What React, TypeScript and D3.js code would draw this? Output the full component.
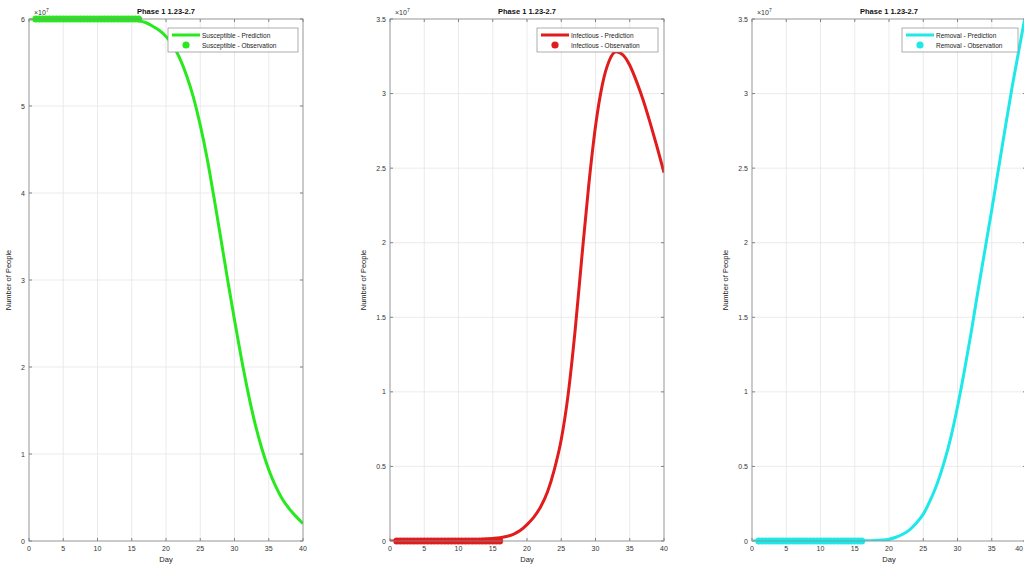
import React from "react";
import * as d3 from "d3";

const days = d3.range(0, 41);
const obsDays = d3.range(1, 16.01, 0.5);

// values in units of 1e7 people
const susceptible = [
  6.0, 6.0, 6.0, 6.0, 6.0, 6.0, 6.0, 6.0, 6.0, 6.0, 6.0, 5.999, 5.998, 5.997, 5.995, 5.99,
  5.98, 5.96, 5.92, 5.87, 5.8, 5.7, 5.55, 5.35, 5.1, 4.78, 4.4, 3.95, 3.48, 3.0,
  2.54, 2.1, 1.7, 1.35, 1.06, 0.82, 0.63, 0.48, 0.37, 0.28, 0.2,
];
const infectious = [
  0.0, 0.0, 0.001, 0.001, 0.001, 0.002, 0.002, 0.003, 0.003, 0.004, 0.005, 0.006, 0.008, 0.01, 0.013, 0.017,
  0.022, 0.03, 0.045, 0.07, 0.11, 0.16, 0.23, 0.33, 0.48, 0.68, 0.98, 1.4, 1.9, 2.38,
  2.78, 3.06, 3.22, 3.28, 3.26, 3.19, 3.08, 2.95, 2.8, 2.64, 2.47,
];
const removal = [
  0.0, 0.0, 0.0, 0.0, 0.0, 0.0, 0.0, 0.0, 0.0, 0.0, 0.0, 0.0, 0.0, 0.0, 0.001, 0.001,
  0.001, 0.002, 0.003, 0.006, 0.012, 0.025, 0.045, 0.075, 0.12, 0.18, 0.27, 0.38, 0.52, 0.69,
  0.9, 1.14, 1.4, 1.68, 1.95, 2.22, 2.5, 2.78, 3.05, 3.3, 3.55,
];
const obsSusceptible = obsDays.map(() => 6.0);
const obsInfectious = obsDays.map(() => 0.0);
const obsRemoval = obsDays.map(() => 0.0);

const xTicks = [0, 5, 10, 15, 20, 25, 30, 35, 40];
const yTicksS = [0, 1, 2, 3, 4, 5, 6];
const yTicksIR = [0, 0.5, 1, 1.5, 2, 2.5, 3, 3.5];

const title = "Phase 1 1.23-2.7";

type Panel = {
  left: number;
  right: number;
  yMax: number;
  yTicks: number[];
  pred: number[];
  obs: number[];
  color: string;
  predLabel: string;
  obsLabel: string;
  legendX: number;
  legendW: number;
  ylabelX: number;
};

const panels: Panel[] = [
  {
    left: 29, right: 303, yMax: 6, yTicks: yTicksS, pred: susceptible, obs: obsSusceptible,
    color: "rgb(40,232,30)", predLabel: "Susceptible - Prediction", obsLabel: "Susceptible - Observation",
    legendX: 168, legendW: 130, ylabelX: 11,
  },
  {
    left: 390, right: 664, yMax: 3.5, yTicks: yTicksIR, pred: infectious, obs: obsInfectious,
    color: "rgb(225,28,28)", predLabel: "Infectious - Prediction", obsLabel: "Infectious - Observation",
    legendX: 537, legendW: 121, ylabelX: 366,
  },
  {
    left: 752, right: 1026, yMax: 3.5, yTicks: yTicksIR, pred: removal, obs: obsRemoval,
    color: "rgb(30,232,232)", predLabel: "Removal - Prediction", obsLabel: "Removal - Observation",
    legendX: 902, legendW: 116, ylabelX: 728,
  },
];

const TOP = 19;
const BOTTOM = 541;
const WIDTH = 1024;
const FONT = "'Liberation Sans', Arial, sans-serif";

function PanelView({ p, i }: { p: Panel; i: number }) {
  const x = d3.scaleLinear().domain([0, 40]).range([p.left, p.right]);
  const y = d3.scaleLinear().domain([0, p.yMax]).range([BOTTOM, TOP]);
  const line = d3
    .line<number>()
    .x((_, k) => x(days[k]))
    .y((v) => y(v))
    .curve(d3.curveMonotoneX);
  const clipId = `clip${i}`;
  const cx = (p.left + p.right) / 2;
  const lx = p.legendX;
  return (
    <g>
      <defs>
        <clipPath id={clipId}>
          <rect x={p.left} y={TOP} width={p.right - p.left} height={BOTTOM - TOP} />
        </clipPath>
      </defs>
      <rect x={p.left} y={TOP} width={p.right - p.left} height={BOTTOM - TOP} fill="#fff" />
      {xTicks.map((t) => (
        <line key={"gx" + t} x1={x(t)} x2={x(t)} y1={TOP} y2={BOTTOM} stroke="#e6e6e6" strokeWidth={0.8} />
      ))}
      {p.yTicks.map((t) => (
        <line key={"gy" + t} x1={p.left} x2={p.right} y1={y(t)} y2={y(t)} stroke="#e6e6e6" strokeWidth={0.8} />
      ))}
      {xTicks.map((t) => {
        const tx = x(t);
        const overflow = tx + 5 > WIDTH;
        return (
          <g key={"tx" + t}>
            <line x1={tx} x2={tx} y1={BOTTOM} y2={BOTTOM - 3} stroke="#555" strokeWidth={0.7} />
            <line x1={tx} x2={tx} y1={TOP} y2={TOP + 3} stroke="#555" strokeWidth={0.7} />
            <text
              x={overflow ? WIDTH - 1 : tx}
              y={BOTTOM + 10}
              fontSize={7}
              textAnchor={overflow ? "end" : "middle"}
              fill="#333"
              fontFamily={FONT}
            >
              {t}
            </text>
          </g>
        );
      })}
      {p.yTicks.map((t) => (
        <g key={"ty" + t}>
          <line x1={p.left} x2={p.left + 3} y1={y(t)} y2={y(t)} stroke="#555" strokeWidth={0.7} />
          <line x1={p.right} x2={p.right - 3} y1={y(t)} y2={y(t)} stroke="#555" strokeWidth={0.7} />
          <text x={p.left - 4} y={y(t) + 2.5} fontSize={7} textAnchor="end" fill="#333" fontFamily={FONT}>
            {t}
          </text>
        </g>
      ))}
      <g clipPath={`url(#${clipId})`}>
        <path d={line(p.pred) || ""} fill="none" stroke={p.color} strokeWidth={3} />
      </g>
      {p.obs.map((v, k) => (
        <circle key={"o" + k} cx={x(obsDays[k])} cy={y(v)} r={3.6} fill={p.color} />
      ))}
      <rect x={p.left} y={TOP} width={p.right - p.left} height={BOTTOM - TOP} fill="none" stroke="#8a8a8a" strokeWidth={0.8} />
      <text x={p.left + 5} y={TOP - 4} fontSize={7} fill="#333" fontFamily={FONT}>
        ×10<tspan dy={-3} fontSize={5}>7</tspan>
      </text>
      <text x={cx} y={TOP - 5} fontSize={7.5} fontWeight="bold" textAnchor="middle" fill="#111" fontFamily={FONT}>
        {title}
      </text>
      <text x={cx} y={BOTTOM + 21} fontSize={7.5} textAnchor="middle" fill="#222" fontFamily={FONT}>
        Day
      </text>
      <text
        transform={`translate(${p.ylabelX},${(TOP + BOTTOM) / 2}) rotate(-90)`}
        fontSize={7.5}
        textAnchor="middle"
        fill="#222"
        fontFamily={FONT}
      >
        Number of People
      </text>
      <rect x={lx} y={28} width={p.legendW} height={24} fill="#fff" stroke="#8a8a8a" strokeWidth={0.7} />
      <line x1={lx + 4} x2={lx + 32} y1={35} y2={35} stroke={p.color} strokeWidth={3} />
      <text x={lx + 34} y={37.5} fontSize={6.5} fill="#222" fontFamily={FONT}>
        {p.predLabel}
      </text>
      <circle cx={lx + 18} cy={45} r={3.6} fill={p.color} />
      <text x={lx + 34} y={47.5} fontSize={6.5} fill="#222" fontFamily={FONT}>
        {p.obsLabel}
      </text>
    </g>
  );
}

export default function App() {
  return (
    <svg
      width={1024}
      height={568}
      style={{ position: "absolute", left: 0, top: 0, background: "#fff" }}
    >
      <rect x={0} y={0} width={1024} height={568} fill="#fff" />
      {panels.map((p, i) => (
        <PanelView key={i} p={p} i={i} />
      ))}
    </svg>
  );
}
